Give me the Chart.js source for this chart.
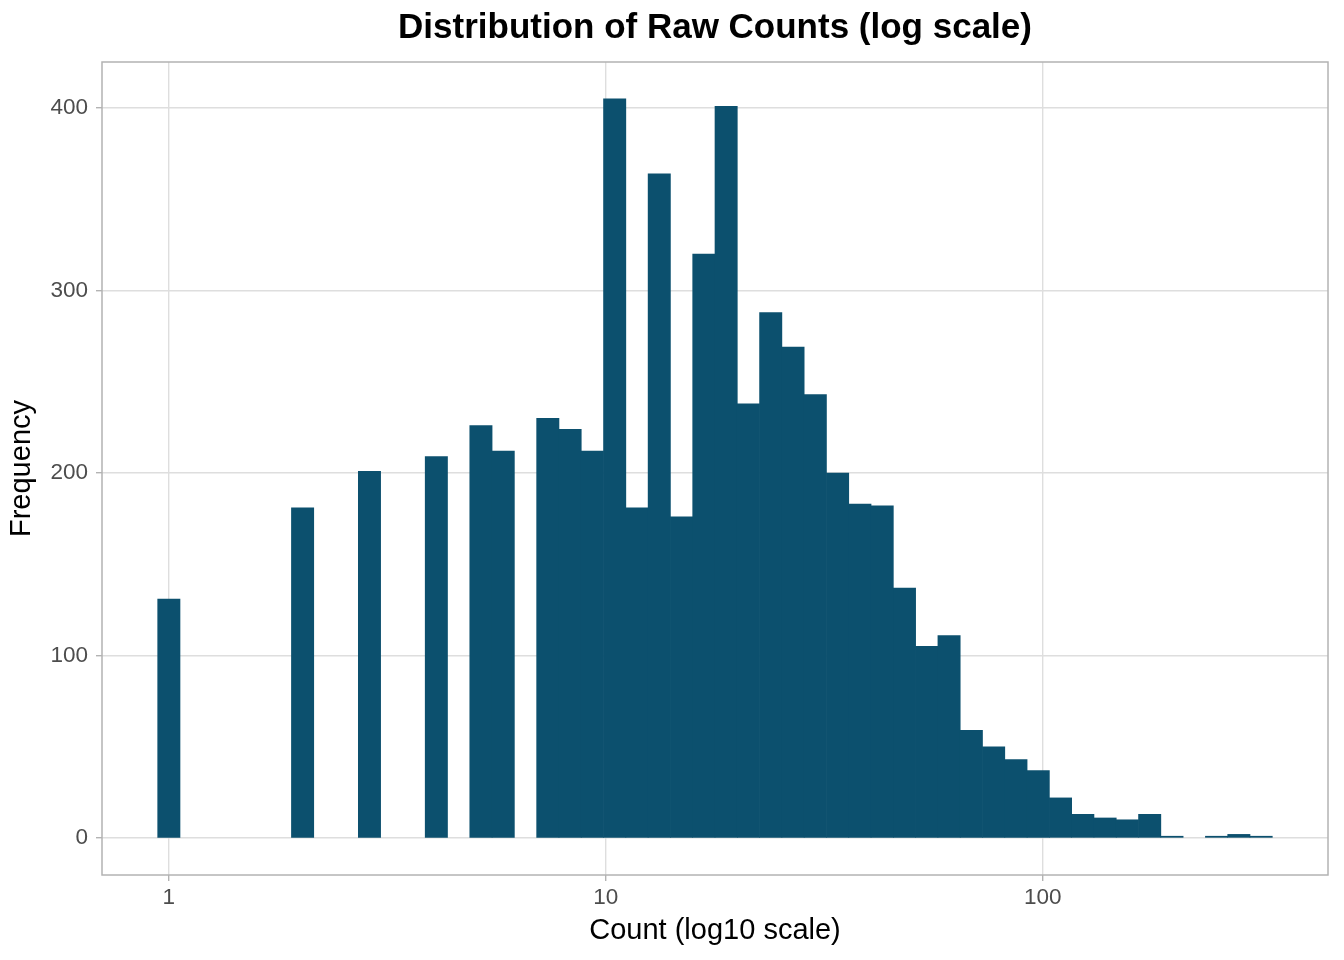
<!DOCTYPE html>
<html>
<head>
<meta charset="utf-8">
<title>Distribution of Raw Counts (log scale)</title>
<script src="https://cdn.jsdelivr.net/npm/chart.js@4"></script>
<style>
  html, body { margin: 0; padding: 0; background: #ffffff; }
  #wrap { width: 1344px; height: 960px; position: relative; }
</style>
</head>
<body>
<div id="wrap"><canvas id="myChart"></canvas></div>
<script>
// histogram bins: 50 bins on log10(count), first centred on log10(1)=0, last on ~log10(316)
let bin_count = 50;
let bin_first_log = 0;
let bin_last_log = 2.5;

// frequency per bin
let counts = [
  131, 0, 0, 0, 0, 0, 181, 0, 0, 201,
  0, 0, 209, 0, 226, 212, 0, 230, 224, 212,
  405, 181, 364, 176, 320, 401, 238, 288, 269, 243,
  200, 183, 182, 137, 105, 111, 59, 50, 43, 37,
  22, 13, 11, 10, 13, 1, 0, 1, 2, 1
];

let x_ticks = [0, 1, 2];          // log10 positions
let x_tick_labels = ['1', '10', '100'];
let y_ticks = [0, 100, 200, 300, 400];

let bin_width_log = (bin_last_log - bin_first_log) / (bin_count - 1);
let bin_centers = counts.map(function(c, i) { return bin_first_log + i * bin_width_log; });

let data = {
  datasets: [{
    label: 'Frequency',
    backgroundColor: '#0c506e',
    borderWidth: 0,
    barPercentage: 1,
    categoryPercentage: 1,
    // empty bins are left undrawn, as in the original
    data: bin_centers.map(function(x, i) { return { x: x, y: counts[i] === 0 ? null : counts[i] }; }),
  }]
};

// grey panel border like ggplot's theme_light
const panelBorder = {
  id: 'panelBorder',
  afterDatasetsDraw(chart) {
    const a = chart.chartArea;
    const ctx = chart.ctx;
    ctx.save();
    ctx.strokeStyle = '#b3b3b3';
    ctx.lineWidth = 1.5;
    ctx.strokeRect(a.left, a.top, a.right - a.left, a.bottom - a.top);
    ctx.restore();
  }
};

const font = 'Liberation Sans, Arial, sans-serif';

let config = {
  type: 'bar',
  data: data,
  plugins: [panelBorder],
  options: {
    responsive: true,
    maintainAspectRatio: false,
    animation: false,
    layout: { padding: { top: 0, right: 16, bottom: 0, left: 0 } },
    plugins: {
      legend: { display: false },
      tooltip: { enabled: false },
      title: {
        display: true,
        fullSize: false,
        text: 'Distribution of Raw Counts (log scale)',
        color: '#000000',
        font: { family: font, size: 35, weight: 'bold' },
        padding: { top: 7, bottom: 13 }
      }
    },
    scales: {
      x: {
        type: 'linear',
        offset: false,
        min: -0.153,
        max: 2.653,
        afterBuildTicks: function(scale) {
          scale.ticks = x_ticks.map(function(v) { return { value: v }; });
        },
        afterFit: function(scale) { scale.height = 85; },
        ticks: {
          color: '#4d4d4d',
          font: { family: font, size: 22.5 },
          padding: 3,
          maxRotation: 0,
          autoSkip: false,
          callback: function(value) {
            let k = x_ticks.indexOf(value);
            return k >= 0 ? x_tick_labels[k] : '';
          }
        },
        grid: { offset: false, color: '#dedede', lineWidth: 1.4, tickColor: '#b3b3b3', tickLength: 6 },
        border: { display: false },
        title: {
          display: true,
          text: 'Count (log10 scale)',
          color: '#000000',
          font: { family: font, size: 29 },
          padding: { top: 0, bottom: 12 }
        }
      },
      y: {
        type: 'linear',
        min: -20.25,
        max: 425.25,
        afterBuildTicks: function(scale) {
          scale.ticks = y_ticks.map(function(v) { return { value: v }; });
        },
        afterFit: function(scale) { scale.width = 102; },
        ticks: {
          color: '#4d4d4d',
          font: { family: font, size: 22.5 },
          padding: 8
        },
        grid: { color: '#dedede', lineWidth: 1.4, tickColor: '#b3b3b3', tickLength: 6 },
        border: { display: false },
        title: {
          display: true,
          text: 'Frequency',
          color: '#000000',
          font: { family: font, size: 29 },
          padding: { top: 5, bottom: 0 }
        }
      }
    }
  }
};

let myChart = new Chart(document.getElementById('myChart'), config);
</script>
</body>
</html>
